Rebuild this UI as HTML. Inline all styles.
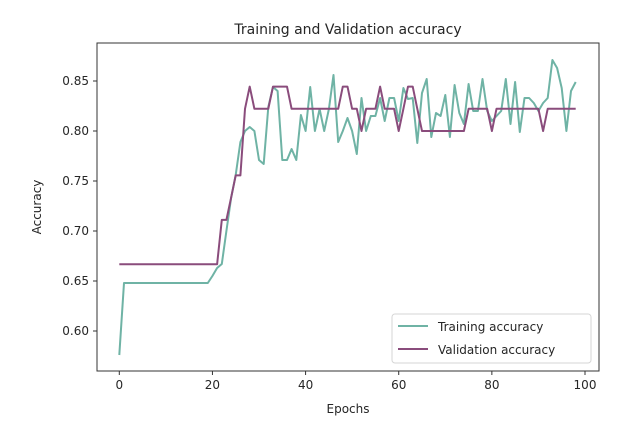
<!DOCTYPE html>
<html><head><meta charset="utf-8"><style>
html,body{margin:0;padding:0;background:#fff}
svg text{font-family:"DejaVu Sans","Liberation Sans",sans-serif;fill:#262626}
</style></head><body>
<svg id="s" width="633" height="418" viewBox="0 0 633 418" xmlns="http://www.w3.org/2000/svg">
<rect width="633" height="418" fill="#fff"/>
<text x="348" y="34" font-size="14" text-anchor="middle">Training and Validation accuracy</text>
<g id="plot"></g>
<rect x="97" y="43" width="502" height="328" fill="none" stroke="#333" stroke-width="1"/>
<g id="ticks" font-size="12"></g>
<text x="348" y="413" font-size="12" text-anchor="middle">Epochs</text>
<text transform="translate(41,207) rotate(-90)" font-size="12" text-anchor="middle">Accuracy</text>
<rect x="392" y="314" width="199" height="49" rx="3" fill="#fff" fill-opacity="0.8" stroke="#d6d6d6"/>
<line x1="398" y1="326" x2="428" y2="326" stroke="#6fb3a5" stroke-width="2"/>
<text x="438" y="331" font-size="12">Training accuracy</text>
<line x1="398" y1="349" x2="428" y2="349" stroke="#8a4c7c" stroke-width="2"/>
<text x="438" y="354" font-size="12">Validation accuracy</text>
</svg>
<script>
var X=function(e){return 119.3+e*4.657},Y=function(v){return 81+(0.85-v)*1000};
var tr=[.576,.648];for(var i=2;i<=19;i++)tr.push(.648);
tr=tr.concat([.655,.663,.667,.70,.733,.756,.789,.80,.804,.80,.771,.767,.824,.844,.84,.771,.771,.782,.771,.816,.80,.844,.80,.822,.80,.822,.856,.789,.80,.813,.80,.777,.833,.80,.815,.815,.833,.81,.833,.833,.81,.843,.832,.833,.788,.838,.852,.794,.818,.815,.836,.794,.846,.818,.807,.847,.82,.82,.852,.82,.81,.815,.82,.852,.807,.849,.799,.833,.833,.828,.82,.828,.833,.871,.863,.843,.80,.84,.849]);
var a=.6667,b=.7111,c=.7333,d=.7556,p=.8222,q=.8444,r=.8;
var va=[];function f(v,n){for(var i=0;i<n;i++)va.push(v)}
f(a,22);f(b,2);f(c,1);f(d,2);f(p,1);f(q,1);f(p,4);f(q,4);f(p,11);f(q,2);f(p,2);f(r,1);f(p,3);f(q,1);f(p,3);f(r,1);f(p,1);f(q,2);f(p,1);f(r,10);f(p,5);f(r,1);f(p,10);f(r,1);f(p,7);
function pl(arr,col){return '<polyline fill="none" stroke="'+col+'" stroke-width="2" stroke-linejoin="round" points="'+arr.map(function(v,i){return X(i).toFixed(1)+','+Y(v).toFixed(1)}).join(' ')+'"/>'}
document.getElementById('plot').innerHTML=pl(tr,'#6fb3a5')+pl(va,'#8a4c7c');
var t='';[0,20,40,60,80,100].forEach(function(e){var x=X(e);t+='<line x1="'+x+'" y1="371" x2="'+x+'" y2="375" stroke="#333"/><text x="'+x+'" y="389" text-anchor="middle">'+e+'</text>'});
[.60,.65,.70,.75,.80,.85].forEach(function(v){var y=Y(v);t+='<line x1="93" y1="'+y+'" x2="97" y2="'+y+'" stroke="#333"/><text x="89" y="'+(y+4)+'" text-anchor="end">'+v.toFixed(2)+'</text>'});
document.getElementById('ticks').innerHTML=t;
</script>
</body></html>
